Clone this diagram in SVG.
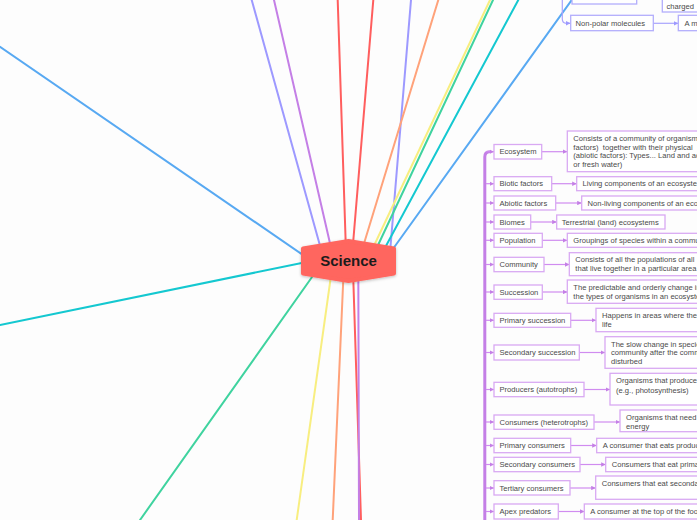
<svg xmlns="http://www.w3.org/2000/svg" width="697" height="520" viewBox="0 0 697 520">
<defs>
<style>
.bg{fill:#fdfdfd}
.sp{fill:none;stroke-width:2;stroke-linecap:round}
.box{fill:#ffffff;stroke:#d9a9f3;stroke-width:1.3}
.vbox{fill:#ffffff;stroke:#b3aefc;stroke-width:1.3}
.lbl{font-family:"Liberation Sans",Arial,sans-serif;font-size:7.6px;fill:#4a4a4a}
.pc{fill:none;stroke:#d08cf0;stroke-width:1.2}
.vc{fill:none;stroke:#a9a4fd;stroke-width:1.2}
.trunk{fill:none;stroke:#c47fe6;stroke-width:3;stroke-linecap:round}
</style>
<marker id="ap" viewBox="0 0 5 5" refX="5" refY="2.5" markerWidth="4.5" markerHeight="4.5" markerUnits="userSpaceOnUse" orient="auto"><path d="M0,0 L5,2.5 L0,5 Z" fill="#c47fe6"/></marker>
<marker id="av" viewBox="0 0 5 5" refX="5" refY="2.5" markerWidth="4.5" markerHeight="4.5" markerUnits="userSpaceOnUse" orient="auto"><path d="M0,0 L5,2.5 L0,5 Z" fill="#9d99ff"/></marker>
<filter id="sh" x="-20%" y="-30%" width="140%" height="160%"><feDropShadow dx="0" dy="1" stdDeviation="1.5" flood-color="#000" flood-opacity="0.25"/></filter>
</defs>
<rect class="bg" x="0" y="0" width="697" height="520"/>

<g id="connectors">
  <line class="sp" stroke="#58a9f2" x1="0" y1="46.7" x2="320" y2="266.7"/>
  <line class="sp" stroke="#14c8d0" x1="0" y1="325" x2="320" y2="259.2"/>
  <line class="sp" stroke="#3fd39f" x1="140" y1="520" x2="317" y2="270"/>
  <line class="sp" stroke="#f8ee80" x1="296.7" y1="520" x2="331.8" y2="270"/>
  <line class="sp" stroke="#ffa27a" x1="332.7" y1="520" x2="343.7" y2="270"/>
  <line class="sp" stroke="#ff5e5e" x1="361" y1="520" x2="353" y2="270"/>
  <line class="sp" stroke="#c47fe6" x1="359" y1="520" x2="358.3" y2="270"/>
  <line class="sp" stroke="#9d99ff" x1="251.7" y1="0" x2="322.6" y2="255"/>
  <line class="sp" stroke="#c47fe6" x1="274" y1="0" x2="332.7" y2="255"/>
  <line class="sp" stroke="#ff5e5e" x1="337.7" y1="0" x2="346.1" y2="255"/>
  <line class="sp" stroke="#ff5e5e" x1="373.3" y1="0" x2="352.1" y2="255"/>
  <line class="sp" stroke="#9d99ff" x1="411" y1="0" x2="389.8" y2="255"/>
  <line class="sp" stroke="#ffa27a" x1="438.3" y1="0" x2="360.5" y2="255"/>
  <line class="sp" stroke="#f8ee80" x1="490" y1="0" x2="369.6" y2="255"/>
  <line class="sp" stroke="#3fd39f" x1="493" y1="0" x2="373.4" y2="255"/>
  <line class="sp" stroke="#14c8d0" x1="518.3" y1="0" x2="381.1" y2="255"/>
  <line class="sp" stroke="#58a9f2" x1="575.3" y1="-5" x2="388.6" y2="255"/>

  <path class="vc" d="M562.3,-5 L562.3,19 Q562.3,23.3 566.5,23.3 L570.5,23.3" marker-end="url(#av)"/>
  <line class="vc" x1="653.3" y1="23.3" x2="678.3" y2="23.3" marker-end="url(#av)"/>

  <path class="trunk" d="M484.8,525 L484.8,157 Q484.8,151.7 489.5,151.7"/>
  <g marker-end="url(#ap)">
    <line class="pc" x1="486" y1="151.7" x2="494" y2="151.7"/>
    <line class="pc" x1="486" y1="183.7" x2="494" y2="183.7"/>
    <line class="pc" x1="486" y1="203" x2="494" y2="203"/>
    <line class="pc" x1="486" y1="222" x2="494" y2="222"/>
    <line class="pc" x1="486" y1="240.3" x2="494" y2="240.3"/>
    <line class="pc" x1="486" y1="264.5" x2="494" y2="264.5"/>
    <line class="pc" x1="486" y1="292" x2="494" y2="292"/>
    <line class="pc" x1="486" y1="320.3" x2="494" y2="320.3"/>
    <line class="pc" x1="486" y1="352.5" x2="494" y2="352.5"/>
    <line class="pc" x1="486" y1="389.5" x2="494" y2="389.5"/>
    <line class="pc" x1="486" y1="422" x2="494" y2="422"/>
    <line class="pc" x1="486" y1="445.5" x2="494" y2="445.5"/>
    <line class="pc" x1="486" y1="464.5" x2="494" y2="464.5"/>
    <line class="pc" x1="486" y1="488" x2="494" y2="488"/>
    <line class="pc" x1="486" y1="511.5" x2="494" y2="511.5"/>

    <line class="pc" x1="541.7" y1="151.7" x2="567.3" y2="151.7"/>
    <line class="pc" x1="551.7" y1="183.7" x2="576.7" y2="183.7"/>
    <line class="pc" x1="555.7" y1="203" x2="581.7" y2="203"/>
    <line class="pc" x1="530.7" y1="222" x2="556.7" y2="222"/>
    <line class="pc" x1="542.3" y1="240.3" x2="567.3" y2="240.3"/>
    <line class="pc" x1="544" y1="264.5" x2="569.3" y2="264.5"/>
    <line class="pc" x1="542.3" y1="292" x2="567.3" y2="292"/>
    <line class="pc" x1="570.7" y1="320.3" x2="596" y2="320.3"/>
    <line class="pc" x1="579.3" y1="352.5" x2="605" y2="352.5"/>
    <line class="pc" x1="584" y1="389.5" x2="610" y2="389.5"/>
    <line class="pc" x1="594" y1="422" x2="620" y2="422"/>
    <line class="pc" x1="570.7" y1="445.5" x2="596.7" y2="445.5"/>
    <line class="pc" x1="580" y1="464.5" x2="605.7" y2="464.5"/>
    <line class="pc" x1="570" y1="488" x2="595.7" y2="488"/>
    <line class="pc" x1="558.3" y1="511.5" x2="584.3" y2="511.5"/>
  </g>
</g>

<g id="science">
  <polygon points="303,248.5 348.5,241 394,248.5 394,273.5 348.5,281 303,273.5" fill="#ff665e" stroke="#ff665e" stroke-width="4" stroke-linejoin="round" filter="url(#sh)"/>
  <text x="348.5" y="266" text-anchor="middle" font-family="'Liberation Sans',Arial,sans-serif" font-size="15" font-weight="bold" fill="#1c1c1c">Science</text>
</g>

<g id="n-topparent"><rect class="vbox" x="572" y="-12" width="64.7" height="16"/></g>
<g id="n-charged"><rect class="vbox" x="662.3" y="-20" width="60" height="32"/><text class="lbl" x="666.5" y="8.8">charged</text></g>
<g id="n-nonpolar"><rect class="vbox" x="570.7" y="15.3" width="82.6" height="15.4"/><text class="lbl" x="575.5" y="25.9">Non-polar molecules</text></g>
<g id="n-nonpolar-desc"><rect class="vbox" x="678.3" y="15.3" width="40" height="15.4"/><text class="lbl" x="684.5" y="25.9">A molecule</text></g>

<g id="n-ecosystem"><rect class="box" x="494" y="144.5" width="47.7" height="14.5"/><text class="lbl" x="499.5" y="154.4">Ecosystem</text></g>
<g id="d-ecosystem"><rect class="box" x="567.3" y="131" width="160" height="40.7"/>
  <text class="lbl" x="573.3" y="141">Consists of a community of organisms</text>
  <text class="lbl" x="573.3" y="149.5">factors)&#160; together with their physical</text>
  <text class="lbl" x="573.3" y="158">(abiotic factors): Types... Land and aquatic</text>
  <text class="lbl" x="573.3" y="166.7">or fresh water)</text></g>

<g id="n-biotic"><rect class="box" x="494" y="176.7" width="57.7" height="14"/><text class="lbl" x="499.5" y="186.4">Biotic factors</text></g>
<g id="d-biotic"><rect class="box" x="576.7" y="176.7" width="140" height="14"/><text class="lbl" x="582.5" y="186.4">Living components of an ecosystem</text></g>

<g id="n-abiotic"><rect class="box" x="494" y="196" width="61.7" height="14"/><text class="lbl" x="499.5" y="205.7">Abiotic factors</text></g>
<g id="d-abiotic"><rect class="box" x="581.7" y="196" width="140" height="14"/><text class="lbl" x="587.5" y="205.7">Non-living components of an ecosystem</text></g>

<g id="n-biomes"><rect class="box" x="494" y="215" width="36.7" height="14"/><text class="lbl" x="499.5" y="224.7">Biomes</text></g>
<g id="d-biomes"><rect class="box" x="556.7" y="215" width="108.3" height="14"/><text class="lbl" x="561.7" y="224.7">Terrestrial (land) ecosystems</text></g>

<g id="n-population"><rect class="box" x="494" y="233.3" width="48.3" height="14"/><text class="lbl" x="499.5" y="243">Population</text></g>
<g id="d-population"><rect class="box" x="567.3" y="233.3" width="160" height="14"/><text class="lbl" x="573.3" y="243">Groupings of species within a community</text></g>

<g id="n-community"><rect class="box" x="494" y="257.3" width="50" height="14.4"/><text class="lbl" x="499.5" y="267.2">Community</text></g>
<g id="d-community"><rect class="box" x="569.3" y="252.7" width="160" height="23"/>
  <text class="lbl" x="575.3" y="262">Consists of all the populations of all</text>
  <text class="lbl" x="575.3" y="271">that live together in a particular area</text></g>

<g id="n-succession"><rect class="box" x="494" y="285" width="48.3" height="14.3"/><text class="lbl" x="499.5" y="294.7">Succession</text></g>
<g id="d-succession"><rect class="box" x="567.3" y="280" width="160" height="23.3"/>
  <text class="lbl" x="573.3" y="290">The predictable and orderly change in</text>
  <text class="lbl" x="573.3" y="298.7">the types of organisms in an ecosystem</text></g>

<g id="n-primsucc"><rect class="box" x="494" y="313.3" width="76.7" height="14"/><text class="lbl" x="499.5" y="323">Primary succession</text></g>
<g id="d-primsucc"><rect class="box" x="596" y="308.3" width="140" height="23.4"/>
  <text class="lbl" x="602" y="318.4">Happens in areas where there</text>
  <text class="lbl" x="602" y="327">life</text></g>

<g id="n-secsucc"><rect class="box" x="494" y="345" width="85.3" height="15"/><text class="lbl" x="499.5" y="355.2">Secondary succession</text></g>
<g id="d-secsucc"><rect class="box" x="605" y="336.7" width="140" height="31.6"/>
  <text class="lbl" x="611" y="346.7">The slow change in species</text>
  <text class="lbl" x="611" y="355.4">community after the community</text>
  <text class="lbl" x="611" y="364.4">disturbed</text></g>

<g id="n-producers"><rect class="box" x="494" y="382.3" width="90" height="14.4"/><text class="lbl" x="499.5" y="392.2">Producers (autotrophs)</text></g>
<g id="d-producers"><rect class="box" x="610" y="373.3" width="140" height="31.7"/>
  <text class="lbl" x="616" y="383.4">Organisms that produce</text>
  <text class="lbl" x="616" y="392.7">(e.g., photosynthesis)</text></g>

<g id="n-consumers"><rect class="box" x="494" y="415" width="100" height="14.3"/><text class="lbl" x="499.5" y="424.7">Consumers (heterotrophs)</text></g>
<g id="d-consumers"><rect class="box" x="620" y="410" width="140" height="21.7"/>
  <text class="lbl" x="626" y="420">Organisms that need</text>
  <text class="lbl" x="626" y="429.3">energy</text></g>

<g id="n-primcons"><rect class="box" x="494" y="438.3" width="76.7" height="14.4"/><text class="lbl" x="499.5" y="448.2">Primary consumers</text></g>
<g id="d-primcons"><rect class="box" x="596.7" y="438.3" width="140" height="14.4"/><text class="lbl" x="602.7" y="448.2">A consumer that eats producers</text></g>

<g id="n-seccons"><rect class="box" x="494" y="457.3" width="86" height="14.4"/><text class="lbl" x="499.5" y="467.2">Secondary consumers</text></g>
<g id="d-seccons"><rect class="box" x="605.7" y="457.3" width="140" height="14.4"/><text class="lbl" x="611.7" y="467.2">Consumers that eat primary</text></g>

<g id="n-tertcons"><rect class="box" x="494" y="480.7" width="76" height="14.3"/><text class="lbl" x="499.5" y="490.7">Tertiary consumers</text></g>
<g id="d-tertcons"><rect class="box" x="595.7" y="476" width="140" height="23.3"/><text class="lbl" x="601.7" y="486">Consumers that eat secondary</text></g>

<g id="n-apex"><rect class="box" x="494" y="504" width="64.3" height="15"/><text class="lbl" x="499.5" y="514.2">Apex predators</text></g>
<g id="d-apex"><rect class="box" x="584.3" y="504" width="140" height="15"/><text class="lbl" x="590.3" y="514.2">A consumer at the top of the food</text></g>
</svg>
